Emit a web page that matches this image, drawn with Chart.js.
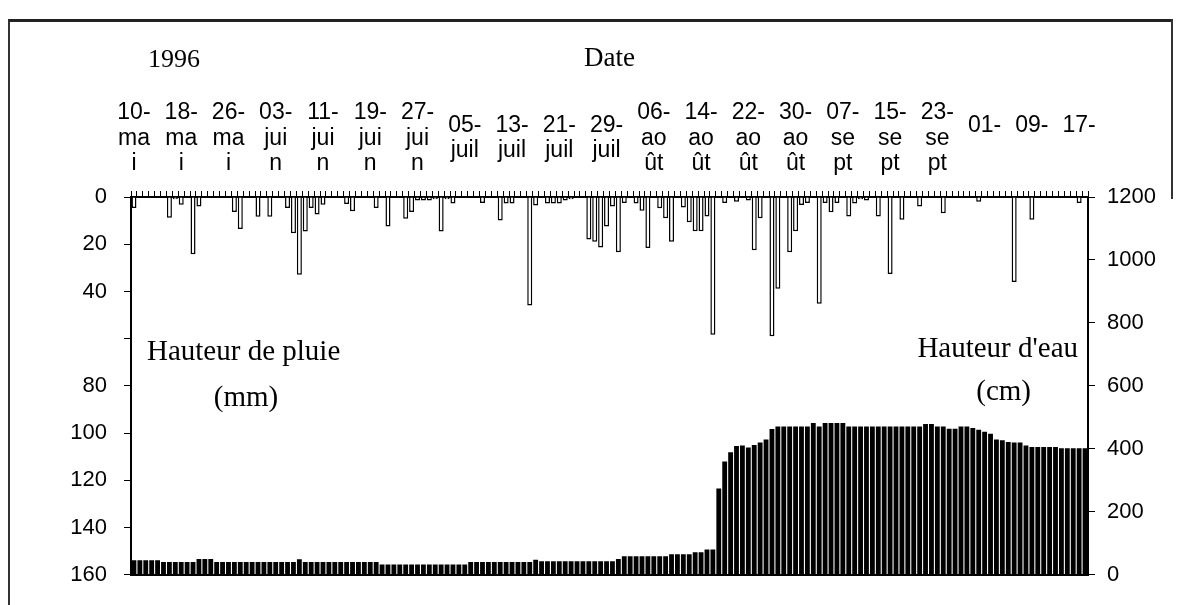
<!DOCTYPE html>
<html>
<head>
<meta charset="utf-8">
<script src="https://cdn.jsdelivr.net/npm/chart.js@4.4.1/dist/chart.umd.min.js"></script>
<style>
  body { margin: 0; background: #fff; }
  #wrap { position: relative; width: 1179px; height: 605px; }
  #cadre { position: absolute; left: 8px; top: 19px; width: 1162px; height: 590px;
           border-top: 3px solid #222; border-left: 2px solid #333; pointer-events: none; }
  #cadreDroit { position: absolute; left: 1171px; top: 19px; width: 0; height: 180px;
           border-right: 2px solid #333; pointer-events: none; }
</style>
</head>
<body>
<div id="wrap">
  <canvas id="graphe" width="1179" height="605"></canvas>
  <div id="cadre"></div>
  <div id="cadreDroit"></div>
</div>
<script>
    // ---------- DONNÉES ----------
    const debut = new Date(1996, 4, 10);   // 10 mai 1996
    const nbJours = 162;
    const moisCourts = ["janv", "févr", "mars", "avr", "mai", "juin", "juil", "août", "sept", "oct", "nov", "déc"];

    // étiquettes affichées tous les 8 jours (coupées comme dans Excel)
    const etiquettes = [
        ["10-", "ma", "i"], ["18-", "ma", "i"], ["26-", "ma", "i"],
        ["03-", "jui", "n"], ["11-", "jui", "n"], ["19-", "jui", "n"], ["27-", "jui", "n"],
        ["05-", "juil"], ["13-", "juil"], ["21-", "juil"], ["29-", "juil"],
        ["06-", "ao", "ût"], ["14-", "ao", "ût"], ["22-", "ao", "ût"], ["30-", "ao", "ût"],
        ["07-", "se", "pt"], ["15-", "se", "pt"], ["23-", "se", "pt"],
        ["01-", ""], ["09-", ""], ["17-", ""]
    ];

    // hauteur de pluie journalière (mm)
    const pluie = [
        4.7, 0, 0, 0, 0, 0, 8.8, 1, 3.3, 0,
        24.2, 4, 0, 0, 0, 0, 0, 6.3, 13.6, 0,
        0, 8.4, 0, 8.4, 0, 0, 4.7, 15.3, 32.9, 14.6,
        4.7, 7.4, 3.3, 0, 0, 0, 3, 6, 0, 0,
        0, 4.7, 0, 12.5, 0, 0, 9.2, 6.3, 1.5, 1.5,
        1.5, 1, 14.6, 1, 2.8, 0, 0, 0, 0, 2.5,
        0, 0, 10, 2.8, 2.8, 0, 0, 45.9, 3.6, 0,
        2.8, 2.8, 2.8, 1.5, 1, 0, 0, 18, 18.9, 21.4,
        12.5, 4, 23.4, 2.5, 0, 2.8, 5.8, 21.6, 0, 4.8,
        9, 18.9, 0, 4.4, 10.7, 14.5, 14.5, 8.3, 58.3, 0,
        2.5, 0, 2, 0, 1.5, 22.5, 9, 0, 59, 38.9,
        0, 23.4, 14.5, 3.4, 2.5, 0, 45.2, 2.5, 6.5, 2.5,
        0, 8.3, 2.8, 1, 1.5, 0, 8.3, 0, 32.6, 0,
        9.6, 0, 0, 4, 0, 0, 0, 6.9, 0, 0,
        0, 0, 0, 2, 0, 0, 0, 0, 0, 36,
        0, 0, 9.6, 0, 0, 0, 0, 0, 0, 0,
        2.5, 0
    ];

    // hauteur d'eau journalière (cm)
    const eau = [
        46, 46, 46, 46, 46, 41, 41, 41, 41, 41,
        41, 50, 50, 50, 41, 41, 41, 41, 41, 41,
        41, 41, 41, 41, 41, 41, 41, 41, 49, 41,
        41, 41, 41, 41, 41, 41, 41, 41, 41, 41,
        41, 41, 33, 33, 33, 33, 33, 33, 33, 33,
        33, 33, 33, 33, 33, 33, 33, 41, 41, 41,
        41, 41, 41, 41, 41, 41, 41, 41, 48, 43,
        43, 43, 43, 43, 43, 43, 43, 43, 43, 43,
        43, 43, 50, 59, 59, 59, 59, 59, 59, 59,
        59, 65, 65, 65, 65, 72, 72, 80, 80, 274,
        360, 389, 409, 411, 404, 412, 420, 430, 463, 471,
        471, 471, 471, 471, 471, 482, 471, 482, 482, 482,
        482, 471, 471, 471, 471, 471, 471, 471, 471, 471,
        471, 471, 471, 471, 479, 479, 471, 471, 464, 464,
        471, 471, 466, 461, 454, 448, 430, 427, 422, 420,
        420, 411, 406, 406, 406, 406, 406, 402, 402, 402,
        402, 402
    ];

    const jours = [];
    for (let i = 0; i < nbJours; i++) {
        const d = new Date(debut.getFullYear(), debut.getMonth(), debut.getDate() + i);
        jours.push(String(d.getDate()).padStart(2, "0") + "-" + moisCourts[d.getMonth()]);
    }

    // ---------- TEXTES POSÉS SUR LE GRAPHE ----------
    const textesLibres = {
        id: "textesLibres",
        afterDraw(chart) {
            const { ctx, chartArea, scales } = chart;
            ctx.save();
            ctx.fillStyle = "#000";
            ctx.textBaseline = "middle";
            ctx.font = "26px 'Liberation Serif', 'Times New Roman', serif";
            ctx.textAlign = "left";
            ctx.fillText("1996", chartArea.left + 17, 60);

            ctx.font = "29px 'Liberation Serif', 'Times New Roman', serif";
            ctx.fillText("Hauteur de pluie", chartArea.left + 16, scales.y.getPixelForValue(66));
            ctx.textAlign = "center";
            ctx.fillText("(mm)", chartArea.left + 115, scales.y.getPixelForValue(85.5));

            ctx.textAlign = "right";
            ctx.fillText("Hauteur d'eau", chartArea.right - 10, scales.y1.getPixelForValue(717));
            ctx.fillText("(cm)", chartArea.right - 57, scales.y1.getPixelForValue(578));
            ctx.restore();
        }
    };

    // ---------- GRAPHE ----------
    const police = "'Liberation Sans', Arial, sans-serif";
    Chart.defaults.font.family = police;
    Chart.defaults.color = "#000";

    const ctx = document.getElementById("graphe").getContext("2d");
    new Chart(ctx, {
        type: "bar",
        data: {
            labels: jours,
            datasets: [
                {
                    label: "Hauteur de pluie (mm)",
                    data: pluie,
                    xAxisID: "x",
                    yAxisID: "y",
                    backgroundColor: "#fff",
                    borderColor: "#000",
                    borderWidth: 1.5,
                    barPercentage: 0.85,
                    categoryPercentage: 1,
                    grouped: false
                },
                {
                    label: "Hauteur d'eau (cm)",
                    data: eau,
                    xAxisID: "x",
                    yAxisID: "y1",
                    backgroundColor: "#000",
                    borderWidth: 0,
                    barPercentage: 0.82,
                    categoryPercentage: 1,
                    grouped: false
                }
            ]
        },
        options: {
            responsive: false,
            animation: false,
            layout: { padding: 0 },
            plugins: {
                legend: { display: false },
                tooltip: { enabled: false }
            },
            scales: {
                x: {
                    position: "top",
                    offset: true,
                    grid: { drawOnChartArea: false, color: "#000", tickLength: 6 },
                    border: { color: "#000", width: 2 },
                    ticks: {
                        autoSkip: false,
                        maxRotation: 0,
                        minRotation: 0,
                        crossAlign: "center",
                        padding: 27,
                        font: { size: 23, lineHeight: 1.12 },
                        callback: (v, i) => (i % 8 === 0 ? etiquettes[i / 8] : "")
                    },
                    title: {
                        display: true,
                        text: "Date",
                        font: { family: "'Liberation Serif', 'Times New Roman', serif", size: 27 },
                        padding: { top: 43, bottom: 0 }
                    },
                    afterFit: (s) => { s.height = 197; }
                },
                x2: {
                    position: "bottom",
                    grid: { display: false },
                    ticks: { display: false },
                    border: { color: "#000", width: 2 },
                    afterFit: (s) => { s.height = 21; }
                },
                y: {
                    position: "left",
                    reverse: true,
                    min: 0,
                    max: 160,
                    grid: { drawOnChartArea: false, color: "#000", tickLength: 7 },
                    border: { color: "#000", width: 2 },
                    ticks: {
                        stepSize: 20,
                        padding: 17,
                        font: { size: 22 },
                        callback: (v) => (v === 60 ? "" : String(v))
                    },
                    afterFit: (s) => { s.width = 131; }
                },
                y1: {
                    position: "right",
                    min: 0,
                    max: 1200,
                    grid: { drawOnChartArea: false, color: "#000", tickLength: 7 },
                    border: { color: "#000", width: 2 },
                    ticks: { stepSize: 200, padding: 12, font: { size: 22 }, callback: (v) => String(v) },
                    afterFit: (s) => { s.width = 91; }
                }
            }
        },
        plugins: [textesLibres]
    });
</script>
</body>
</html>
